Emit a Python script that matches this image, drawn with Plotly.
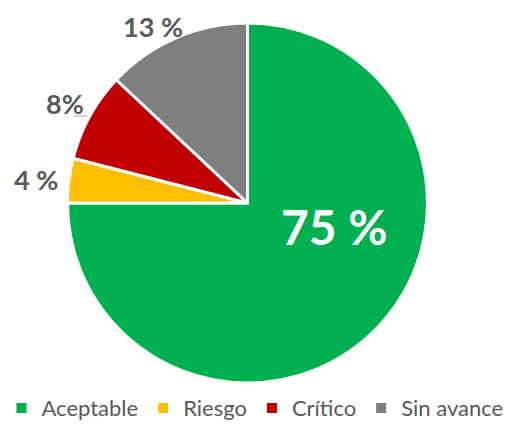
import plotly.graph_objects as go

categories = ["Aceptable", "Riesgo", "Crítico", "Sin avance"]
values = [75, 4, 8, 13]
label_texts = ["75 %", "4 %", "8%", "13 %"]
colors = ["#00B050", "#FFC000", "#C00000", "#7F7F7F"]

W, H = 510, 424
cx, cy, r = 247.5, 203, 180

fig = go.Figure()
fig.add_trace(go.Pie(
    labels=categories, values=values, sort=False, direction="clockwise", rotation=0,
    marker=dict(colors=colors, line=dict(color="white", width=3)),
    textinfo="none", hoverinfo="label+percent",
    domain=dict(x=[(cx - r) / W, (cx + r) / W], y=[1 - (cy + r) / H, 1 - (cy - r) / H]),
))

# label positions (pixels)
label_pos = [(334, 226, 48, "white"), (36, 179, 27, "#595959"), (65, 103, 27, "#595959"), (153, 27, 27, "#595959")]
for txt, (px, py, fs, col) in zip(label_texts, label_pos):
    fig.add_annotation(x=px / W, y=1 - py / H, xref="paper", yref="paper", text=f"<b>{txt}</b>",
                       showarrow=False, font=dict(family="Lato", size=fs, color=col),
                       xanchor="center", yanchor="middle")

fig.add_shape(type="line", xref="paper", yref="paper", x0=74 / W, x1=88 / W, y0=1 - 116 / H, y1=1 - 116 / H,
              line=dict(color="#A6A6A6", width=1))

fig.update_layout(
    width=W, height=H, margin=dict(l=0, r=0, t=0, b=0, autoexpand=False),
    paper_bgcolor="white", plot_bgcolor="white",
    showlegend=True,
    legend=dict(orientation="h", x=0.5, xanchor="center", y=-0.012, yanchor="bottom",
                font=dict(family="Lato", size=22, color="#595959"), itemsizing="constant"),
)
fig.write_html("out.html", config={"displayModeBar": False},
               post_script="document.body.style.margin='0';")
